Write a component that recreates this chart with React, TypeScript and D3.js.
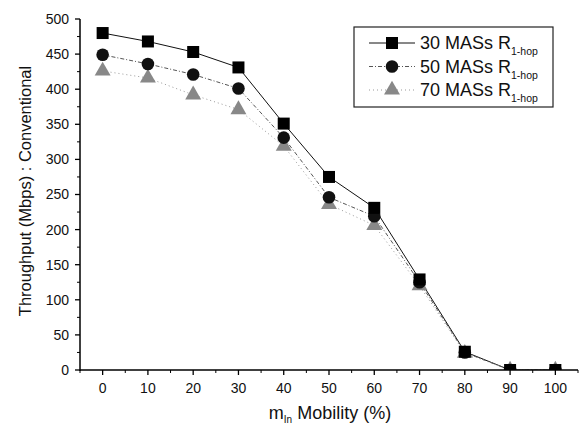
import React from "react";
import * as d3 from "d3";

const mobility = [0, 10, 20, 30, 40, 50, 60, 70, 80, 90, 100];
const mas30 = [480, 468, 453, 431, 351, 275, 231, 129, 26, 0, 0];
const mas50 = [449, 436, 421, 401, 331, 246, 219, 125, 25, 0, 0];
const mas70 = [426, 416, 392, 371, 319, 236, 206, 120, 24, 0, 0];
const xTicks = [0, 10, 20, 30, 40, 50, 60, 70, 80, 90, 100];
const yTicks = [0, 50, 100, 150, 200, 250, 300, 350, 400, 450, 500];
const seriesNames = ["30 MASs R", "50 MASs R", "70 MASs R"];

const W = 580, H = 427;
const left = 80, right = 578, top = 19, bottom = 370;
const font = "'Liberation Sans', Arial, sans-serif";

export default function App() {
  const x = d3.scaleLinear().domain([-5, 105]).range([left, right]);
  const y = d3.scaleLinear().domain([0, 500]).range([bottom, top]);
  const line = d3.line<number>().x((_, i) => x(mobility[i])).y((v) => y(v));
  const xMinor = d3.range(-5, 106, 5).filter((v) => v % 10 !== 0);
  const yMinor = d3.range(25, 500, 50);

  const series = [
    { data: mas30, stroke: "#111", dash: "", width: 1, marker: "square", fill: "#000" },
    { data: mas50, stroke: "#555", dash: "4,2,1,2", width: 1, marker: "circle", fill: "#111" },
    { data: mas70, stroke: "#999", dash: "1,3", width: 1, marker: "triangle", fill: "#888" },
  ];

  const drawMarker = (kind: string, cx: number, cy: number, fill: string, key: any) => {
    if (kind === "square") return <rect key={key} x={cx - 6} y={cy - 6} width={12} height={12} fill={fill} />;
    if (kind === "circle") return <circle key={key} cx={cx} cy={cy} r={6.3} fill={fill} />;
    const p = d3.symbol(d3.symbolTriangle, 110)();
    return <path key={key} d={p as string} transform={`translate(${cx},${cy})`} fill={fill} />;
  };

  return (
    <svg width={W} height={H} style={{ position: "absolute", left: 0, top: 0, background: "#fff" }} fontFamily={font}>
      <rect width={W} height={H} fill="#fff" />
      <defs>
        <clipPath id="plot">
          <rect x={left} y={0} width={right - left} height={bottom - 0} />
        </clipPath>
      </defs>
      <g clipPath="url(#plot)">
        {series.map((s, si) => (
          <g key={si}>
            <path d={line(s.data) as string} fill="none" stroke={s.stroke} strokeWidth={s.width} strokeDasharray={s.dash} />
          </g>
        ))}
        {series.slice().reverse().map((s, si) => (
          <g key={"m" + si}>{s.data.map((v, i) => drawMarker(s.marker, x(mobility[i]), y(v), s.fill, i))}</g>
        ))}
      </g>
      {/* axes */}
      <line x1={left} x2={left} y1={top} y2={bottom + 1} stroke="#000" strokeWidth={1.5} />
      <line x1={left} x2={right} y1={bottom} y2={bottom} stroke="#000" strokeWidth={1.5} />
      {yTicks.map((t) => (
        <g key={"y" + t}>
          <line x1={left - 5} x2={left} y1={y(t)} y2={y(t)} stroke="#000" strokeWidth={1.3} />
          <text x={left - 11} y={y(t)} dy="0.35em" textAnchor="end" fontSize={14} fill="#111">{t}</text>
        </g>
      ))}
      {yMinor.map((t) => (
        <line key={"ym" + t} x1={left - 3} x2={left} y1={y(t)} y2={y(t)} stroke="#000" strokeWidth={1} />
      ))}
      {xTicks.map((t) => (
        <g key={"x" + t}>
          <line x1={x(t)} x2={x(t)} y1={bottom} y2={bottom + 5} stroke="#000" strokeWidth={1.3} />
          <text x={x(t)} y={bottom + 23} textAnchor="middle" fontSize={14} fill="#111">{t}</text>
        </g>
      ))}
      {xMinor.map((t) => (
        <line key={"xm" + t} x1={x(t)} x2={x(t)} y1={bottom} y2={bottom + 3} stroke="#000" strokeWidth={1} />
      ))}
      {/* axis titles */}
      <text x={330} y={419} textAnchor="middle" fontSize={18} fill="#111">
        m<tspan fontSize={10} dy={4}>In</tspan><tspan dy={-4}> Mobility (%)</tspan>
      </text>
      <text transform={`translate(31,${191}) rotate(-90)`} textAnchor="middle" fontSize={16.5} fill="#111">
        Throughput (Mbps) : Conventional
      </text>
      {/* legend */}
      <rect x={354} y={27} width={199} height={80} fill="#fff" stroke="#222" strokeWidth={1.2} />
      {series.map((s, i) => {
        const ly = 43 + i * 23.5;
        return (
          <g key={"l" + i}>
            <line x1={369} x2={415} y1={ly} y2={ly} stroke={s.stroke} strokeWidth={s.width} strokeDasharray={s.dash} />
            {drawMarker(s.marker, 392, ly, s.fill, "lm")}
            <text x={420} y={ly} dy="0.35em" fontSize={18} fill="#111">
              {seriesNames[i]}
              <tspan fontSize={10.5} dy={6}>1-hop</tspan>
            </text>
          </g>
        );
      })}
    </svg>
  );
}
